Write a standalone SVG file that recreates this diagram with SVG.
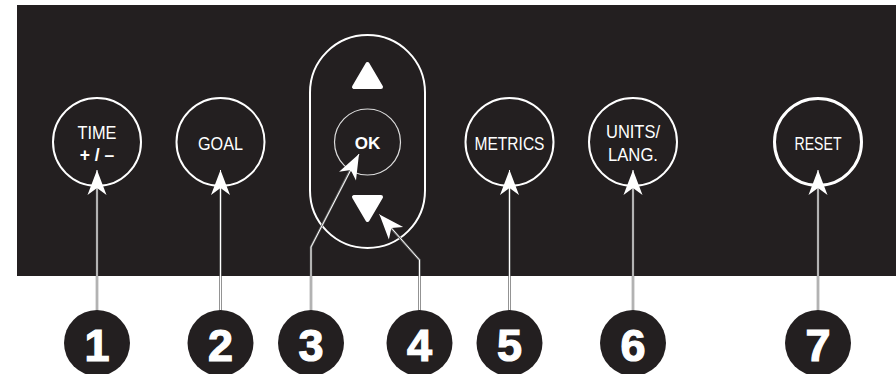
<svg xmlns="http://www.w3.org/2000/svg" width="896" height="374" viewBox="0 0 896 374">
<style>
.btn{fill:none;stroke:#fff;stroke-width:2}
.lbl{font-family:"Liberation Sans",Arial,sans-serif;font-size:17.5px;fill:#fff;text-anchor:middle}
.num{font-family:"Liberation Sans",Arial,sans-serif;font-size:45px;font-weight:bold;fill:#fff;stroke:#fff;stroke-width:1.2;text-anchor:middle}
.badge{fill:#231f20}
.out{fill:none;stroke:#666;stroke-width:2.4}
.in{fill:none;stroke:#fff;stroke-width:1}
.tri{fill:#fff;stroke:#fff;stroke-width:4;stroke-linejoin:round}
</style>
<defs>
<marker id="ah" markerUnits="userSpaceOnUse" viewBox="-26 -11 28 22" refX="0" refY="0" markerWidth="28" markerHeight="22" orient="auto">
<path d="M0,0 L-25,-9.5 L-18,0 L-25,9.5 Z" fill="#fff"/>
</marker>
</defs>
<rect x="17" y="5" width="879" height="271" fill="#231f20"/>
<g id="btn-time"><circle class="btn" cx="97" cy="142" r="44"/><text class="lbl" x="97" y="139" textLength="39" lengthAdjust="spacingAndGlyphs">TIME</text><text class="lbl" x="97" y="161" style="font-weight:bold">+ / –</text></g>
<g id="btn-goal"><circle class="btn" cx="220.5" cy="142" r="44"/><text class="lbl" x="220.5" y="150" textLength="45" lengthAdjust="spacingAndGlyphs">GOAL</text></g>
<g id="btn-nav"><rect class="btn" x="310" y="35" width="115" height="213" rx="57.5"/><polygon class="tri" points="367.5,64 354,87 381,87"/><polygon class="tri" points="354,197 381,197 367.5,220"/><circle cx="367.5" cy="142" r="33" fill="none" stroke="#ddd" stroke-width="1.2"/><text class="lbl" x="367.5" y="149" style="font-weight:bold;font-size:17px">OK</text></g>
<g id="btn-metrics"><circle class="btn" cx="509.5" cy="142" r="44"/><text class="lbl" x="509.5" y="150" textLength="70" lengthAdjust="spacingAndGlyphs">METRICS</text></g>
<g id="btn-units"><circle class="btn" cx="633" cy="142" r="44"/><text class="lbl" x="633" y="138" textLength="54" lengthAdjust="spacingAndGlyphs">UNITS/</text><text class="lbl" x="633" y="161" textLength="50" lengthAdjust="spacingAndGlyphs">LANG.</text></g>
<g id="btn-reset"><circle class="btn" cx="818" cy="142" r="43.5" style="stroke-width:3"/><text class="lbl" x="818" y="150" textLength="47" lengthAdjust="spacingAndGlyphs">RESET</text></g>
<g id="connectors">
<path class="out" d="M97,312 V176"/><path class="out" d="M220.5,312 V176"/><path class="out" d="M311,312 V247 L356,159"/><path class="out" d="M419.5,312 V260 L383,219"/><path class="out" d="M509.5,312 V176"/><path class="out" d="M633,312 V176"/><path class="out" d="M818,312 V176"/>
<path class="in" d="M97,312 V170" marker-end="url(#ah)"/><path class="in" d="M220.5,312 V170" marker-end="url(#ah)"/><path class="in" d="M311,312 V247 L359,154" marker-end="url(#ah)"/><path class="in" d="M419.5,312 V260 L379.5,214.5" marker-end="url(#ah)"/><path class="in" d="M509.5,312 V170" marker-end="url(#ah)"/><path class="in" d="M633,312 V170" marker-end="url(#ah)"/><path class="in" d="M818,312 V170" marker-end="url(#ah)"/>
</g>
<g id="badge-1"><circle class="badge" cx="97" cy="343" r="33"/><text class="num" x="97" y="361">1</text></g>
<g id="badge-2"><circle class="badge" cx="220.5" cy="343" r="33"/><text class="num" x="220.5" y="361">2</text></g>
<g id="badge-3"><circle class="badge" cx="311" cy="343" r="33"/><text class="num" x="311" y="361">3</text></g>
<g id="badge-4"><circle class="badge" cx="419.5" cy="343" r="33"/><text class="num" x="419.5" y="361">4</text></g>
<g id="badge-5"><circle class="badge" cx="509.5" cy="343" r="33"/><text class="num" x="509.5" y="361">5</text></g>
<g id="badge-6"><circle class="badge" cx="633" cy="343" r="33"/><text class="num" x="633" y="361">6</text></g>
<g id="badge-7"><circle class="badge" cx="818" cy="343" r="33"/><text class="num" x="818" y="361">7</text></g>
</svg>
